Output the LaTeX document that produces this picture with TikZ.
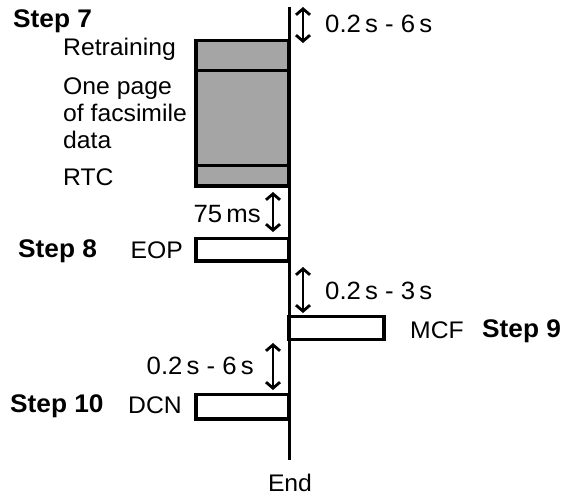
\documentclass[tikz,border=0pt]{standalone}
\usepackage{fontspec}
\setmainfont{Liberation Sans}[FakeStretch=1.03]
\usetikzlibrary{arrows.meta}
\definecolor{boxgray}{RGB}{165,165,165}
\begin{document}
\begin{tikzpicture}[x=1pt,y=-1pt,
  lbl/.style={inner sep=0pt, font=\fontsize{24}{28}\selectfont},
  dimlbl/.style={inner sep=0pt, font=\fontsize{25}{29}\selectfont},
  steplbl/.style={inner sep=0pt, font=\fontsize{25.5}{30}\selectfont\bfseries},
  bar/.style={draw=black, line width=3.5pt, inner sep=0pt, rectangle},
  timeline/.style={line width=3pt},
  dimarrow/.style={{Straight Barb[length=6pt,width=14pt]}-{Straight Barb[length=6pt,width=14pt]}, line width=2.8pt},
]
\useasboundingbox (0,0) rectangle (566,496);

% time line
\coordinate (ttop) at (289,7);
\coordinate (tbot) at (289,460);
\draw[timeline] (ttop) -- (tbot);

% boxes
\node[bar, fill=boxgray, minimum width=93pt, minimum height=145.5pt] (page) at (242.5,113.25) {};
\draw[line width=3pt] (page.west |- 0,70) -- (page.east |- 0,70);
\draw[line width=3pt] (page.west |- 0,165) -- (page.east |- 0,165);
\node[bar, minimum width=93pt, minimum height=22.5pt] (eop) at (242.5,249.75) {};
\node[bar, minimum width=95pt, minimum height=23pt] (mcf) at (336.5,328) {};
\node[bar, minimum width=93pt, minimum height=24.5pt] (dcn) at (242.5,406.75) {};

% texts
\node[steplbl, anchor=base west] (s7) at (13,27) {Step 7};
\node[lbl, anchor=base west] (t1) at (63,55) {Retraining};
\node[lbl, anchor=base west] (t2) at (63,94) {One page};
\node[lbl, anchor=base west] (t3) at (63,121) {of facsimile};
\node[lbl, anchor=base west] (t4) at (63,148) {data};
\node[lbl, anchor=base west] (t5) at (63,185) {RTC};

\node[steplbl, anchor=base west] (s8) at (18,257) {Step 8};
\node[lbl, anchor=base east] (leop) at (183,258) {EOP};
\node[lbl, anchor=base west] (lmcf) at (410,338) {MCF};
\node[steplbl, anchor=base west] (s9) at (482,337) {Step 9};
\node[steplbl, anchor=base west] (s10) at (10,412) {Step 10};
\node[lbl, anchor=base east] (ldcn) at (182,413) {DCN};
\node[lbl, anchor=base] (lend) at (290,491) {End};

% dimension arrows
\coordinate (a1t) at (303,7);   \coordinate (a1b) at (303,43);
\coordinate (a2t) at (273,192); \coordinate (a2b) at (273,232);
\coordinate (a3t) at (303,267); \coordinate (a3b) at (303,313);
\coordinate (a4t) at (273,343); \coordinate (a4b) at (273,390);
\draw[dimarrow] (a1t) -- (a1b);
\draw[dimarrow] (a2t) -- (a2b);
\draw[dimarrow] (a3t) -- (a3b);
\draw[dimarrow] (a4t) -- (a4b);

\node[dimlbl, anchor=base west] (d1) at (325,32) {0.2\,s - 6\,s};
\node[dimlbl, anchor=base east] (d2) at (261,222) {75\,ms};
\node[dimlbl, anchor=base west] (d3) at (325,299) {0.2\,s - 3\,s};
\node[dimlbl, anchor=base east] (d4) at (254,374) {0.2\,s - 6\,s};
\end{tikzpicture}
\end{document}
